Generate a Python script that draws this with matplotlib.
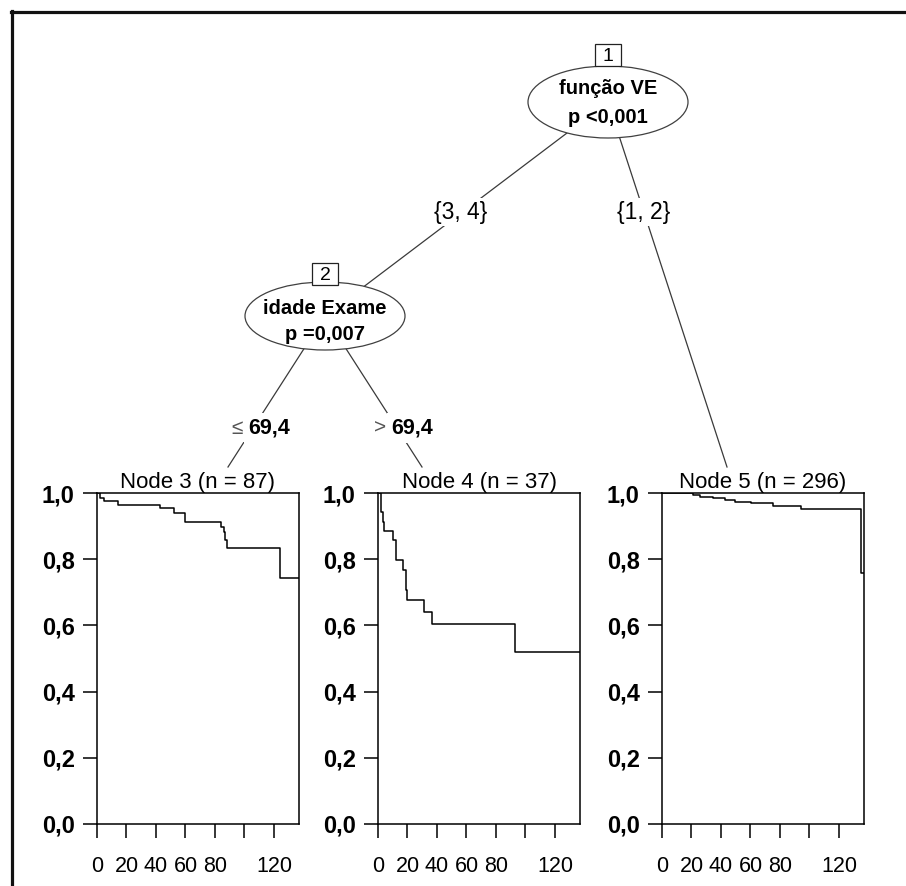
import matplotlib
matplotlib.use('Agg')
import matplotlib.pyplot as plt
from matplotlib.patches import Ellipse, Rectangle
from matplotlib.lines import Line2D

plt.rcParams['font.family'] = ['Liberation Sans', 'DejaVu Sans']

W, H = 906, 886

# Kaplan-Meier steps (time, survival)
node3_time = [0, 2, 5, 14, 43, 52, 60, 84, 86, 87, 88, 124, 137]
node3_surv = [1.0, 0.985, 0.976, 0.964, 0.955, 0.94, 0.912, 0.897, 0.882, 0.858, 0.834, 0.743, 0.743]

node4_time = [0, 1.8, 3.1, 4, 10.3, 12.1, 17, 18.9, 19.8, 31.2, 36.8, 92.9, 137]
node4_surv = [1.0, 0.943, 0.913, 0.885, 0.858, 0.798, 0.767, 0.707, 0.677, 0.641, 0.603, 0.519, 0.519]

node5_time = [0, 21.2, 25.7, 34.7, 42.6, 49.3, 60.6, 70.7, 75.2, 94.4, 135.2, 137]
node5_surv = [1.0, 0.994, 0.989, 0.984, 0.979, 0.974, 0.971, 0.969, 0.961, 0.951, 0.759, 0.759]

node_titles = ['Node 3 (n = 87)', 'Node 4 (n = 37)', 'Node 5 (n = 296)']
y_ticks = [0, 0.2, 0.4, 0.6, 0.8, 1.0]
y_labels = ['0,0', '0,2', '0,4', '0,6', '0,8', '1,0']
x_ticks = [0, 20, 40, 60, 80, 100, 120]
x_labels = ['0', '20', '40', '60', '80', '', '120']

split_ids = ['1', '2']
split_vars = ['função VE', 'idade Exame']
split_p = ['p <0,001', 'p =0,007']
edge_text = ['{3, 4}', '{1, 2}']
cut_signs = ['≤', '>']
cut_value = '69,4'

fig = plt.figure(figsize=(W / 100, H / 100), dpi=100)

# tree drawn in pixel coordinates on a full-figure axes
tree = fig.add_axes([0, 0, 1, 1])
tree.set_xlim(0, W)
tree.set_ylim(H, 0)
tree.axis('off')

# outer frame (only top and left visible, picture is cropped)
tree.add_line(Line2D([11, W], [12, 12], color='#111111', lw=2.3))
tree.add_line(Line2D([12, 12], [11, H], color='#111111', lw=2.3))

inner = [(608, 102, 72), (325, 316, 68)]     # centre x, centre y, ellipse height
text_y = [(88, 117), (308, 335)]
box_y = [55, 274]
ends = [(228, 467), (422, 467), (727, 467)]  # where edges meet the terminal nodes

ec = '#3a3a3a'
# edges
tree.plot([inner[0][0], inner[1][0]], [inner[0][1], inner[1][1]], color=ec, lw=0.9, zorder=1)
tree.plot([inner[0][0], ends[2][0]], [inner[0][1], ends[2][1]], color=ec, lw=0.9, zorder=1)
tree.plot([inner[1][0], ends[0][0]], [inner[1][1], ends[0][1]], color=ec, lw=0.9, zorder=1)
tree.plot([inner[1][0], ends[1][0]], [inner[1][1], ends[1][1]], color=ec, lw=0.9, zorder=1)

lab_bg = dict(facecolor='white', edgecolor='none', pad=2)
tree.text(461, 212, edge_text[0], ha='center', va='center', fontsize=16.5, bbox=lab_bg, zorder=3)
tree.text(644, 212, edge_text[1], ha='center', va='center', fontsize=16.5, bbox=lab_bg, zorder=3)

for cx, sign in zip([259, 402], cut_signs):
    tree.text(cx - 16, 428, sign, ha='right', va='center', fontsize=15, color='#555555',
              bbox=dict(facecolor='white', edgecolor='none', pad=3), zorder=3)
    tree.text(cx - 11, 428, cut_value, ha='left', va='center', fontsize=15.5, fontweight='bold',
              bbox=dict(facecolor='white', edgecolor='none', pad=3), zorder=3)

# inner nodes
for (cx, cy, eh), (t1, t2), by, nid, var, p in zip(inner, text_y, box_y, split_ids, split_vars, split_p):
    tree.add_patch(Ellipse((cx, cy), 160, eh, facecolor='white', edgecolor='#404040', lw=0.9, zorder=4))
    tree.text(cx, t1, var, ha='center', va='center', fontsize=14.5, fontweight='bold', zorder=5)
    tree.text(cx, t2, p, ha='center', va='center', fontsize=14.5, fontweight='bold', zorder=5)
    tree.add_patch(Rectangle((cx - 13, by - 11), 26, 22, facecolor='white', edgecolor='#222222', lw=0.9, zorder=6))
    tree.text(cx, by + 1, nid, ha='center', va='center', fontsize=14, zorder=7)

# terminal nodes: survival curves
panels = [(97, node3_time, node3_surv, node_titles[0]),
          (378, node4_time, node4_surv, node_titles[1]),
          (662, node5_time, node5_surv, node_titles[2])]

for left, t, s, title in panels:
    ax = fig.add_axes([left / W, (H - 824) / H, 202 / W, 331 / H])
    ax.step(t, s, where='post', color='black', lw=1.1)
    ax.set_xlim(0, 137)
    ax.set_ylim(0, 1)
    ax.set_xticks(x_ticks)
    ax.set_xticklabels(x_labels, fontsize=15.5)
    ax.set_yticks(y_ticks)
    ax.set_yticklabels(y_labels, fontsize=17, fontweight='bold')
    ax.tick_params(axis='both', direction='out', length=10, width=1.1, color='black')
    ax.tick_params(axis='x', pad=13)
    ax.tick_params(axis='y', pad=6)
    for sp in ax.spines.values():
        sp.set_linewidth(1.1)
        sp.set_color('black')
    ax.set_title(title, fontsize=16, pad=-1)

fig.savefig('out.png', dpi=100)
